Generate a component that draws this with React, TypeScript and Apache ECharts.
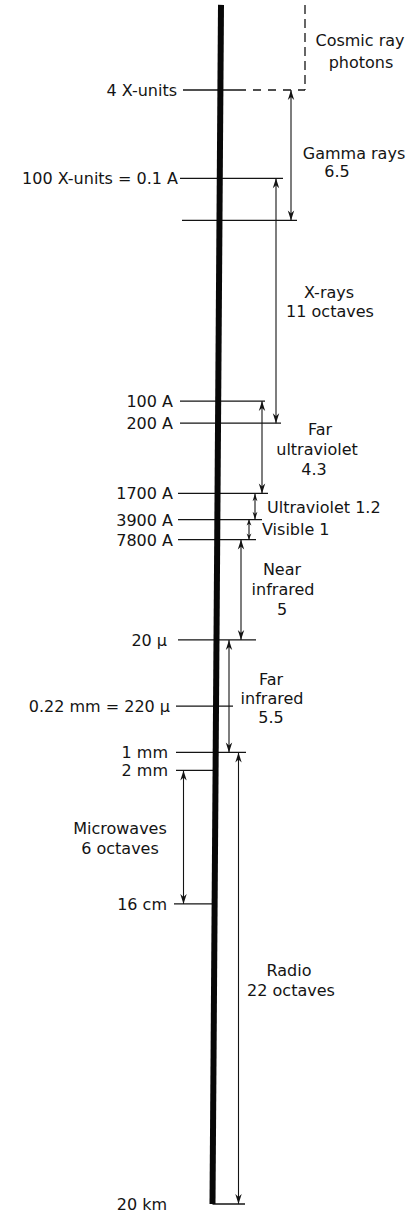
import React, { useEffect, useRef } from "react";
import * as echarts from "echarts";

// ---- data (positions on the scale, in octaves below 4 X-units) ----
const levelLabels = [
  "4 X-units",
  "100 X-units = 0.1 A",
  "",
  "100 A",
  "200 A",
  "1700 A",
  "3900 A",
  "7800 A",
  "20 \u03bc",
  "0.22 mm = 220 \u03bc",
  "1 mm",
  "2 mm",
  "16 cm",
  "20 km",
];
const levelOctaves = [0, 4.4, 6.5, 15.5, 16.6, 20.1, 21.4, 22.4, 27.4, 30.7, 33.0, 33.9, 40.55, 55.5];
const topOctave = -4.24;

const bandNames = [
  "Cosmic ray\nphotons",
  "Gamma rays\n6.5",
  "X-rays\n11 octaves",
  "Far\nultraviolet\n4.3",
  "Ultraviolet 1.2",
  "Visible 1",
  "Near\ninfrared\n5",
  "Far\ninfrared\n5.5",
  "Microwaves\n6 octaves",
  "Radio\n22 octaves",
];
// band limits as indices into the levels (-1 = top of the scale)
const bandFrom = [-1, 0, 1, 3, 5, 6, 7, 8, 11, 10];
const bandTo = [0, 2, 4, 5, 6, 7, 8, 10, 12, 13];

// ---- layout (pixels) ----
const W = 414;
const H = 1214;
const PX_PER_OCT = 1114 / 55.5;
const Y0 = 90;
const BAR_TOP_X = 221;
const BAR_BOTTOM_X = 212.5;
const INK = "#141414";
const FONT = '16px "DejaVu Sans", sans-serif';

// [left end, right end]; null = at the thick bar
const levelLineX: (number | null)[][] = [
  [183, 305], [180, 283], [182, 297], [180, 265], [180, 281], [178, 268], [178, 262],
  [178, 256], [178, 256], [176, 233], [176, 246], [176, null], [174, null], [null, 245],
];
const levelLabelRight = [177, 178, 0, 173, 173, 173, 173, 173, 167, 170, 168, 168, 167, 167];
const levelDashFrom: (number | null)[] = [238, null, null, null, null, null, null, null, null, null, null, null, null, null];

const bandArrowX: (number | null)[] = [null, 291, 276, 262, 255, 249, 241, 229, 183.5, 238.5];
const cosmicDashX = 305;
const bandLabelX = [360, 354, 329, 317, 267, 262, 282, 271, 120, 290];
const bandLabelAlign = ["center", "center", "center", "center", "left", "left", "center", "center", "center", "center"];
const bandLabelDy = [3.6, 6.8, 1.7, 2.7, 1.5, 0.4, 0, 2.3, 1.8, 2.8];
const bandLineHeight = [22, 18, 19, 20, 20, 20, 20, 19, 20, 20];
const bandLineDx: number[][] = [[0, 1], [0, -17], [0, 1], [3, 0, -3], [0], [0], [0, 1, 0], [0, 1, 0], [0, 0], [-1, 1]];

const octAt = (i: number) => (i < 0 ? topOctave : levelOctaves[i]);
const barX = (v: number) =>
  BAR_TOP_X + ((v - topOctave) / (levelOctaves[levelOctaves.length - 1] - topOctave)) * (BAR_BOTTOM_X - BAR_TOP_X);

export default function App() {
  const ref = useRef<HTMLDivElement>(null);

  useEffect(() => {
    if (!ref.current) return;
    const chart = echarts.init(ref.current, undefined, { renderer: "svg" });

    const levelData = levelOctaves.map((v, i) => {
      const [a, b] = levelLineX[i];
      return [a == null ? barX(v) : a, b == null ? barX(v) : b, v, i];
    });

    const arrowData = bandNames
      .map((_, i) => [bandArrowX[i], octAt(bandFrom[i]), octAt(bandTo[i]), i])
      .filter((d) => d[0] != null);

    const labelData = bandNames.map((_, i) => [bandLabelX[i], (octAt(bandFrom[i]) + octAt(bandTo[i])) / 2, i]);

    const lineStyle = (dash?: number[]) => ({ stroke: INK, lineWidth: 1.3, lineDash: dash });

    chart.setOption({
      animation: false,
      backgroundColor: "#ffffff",
      grid: { left: 0, right: 0, top: 0, bottom: 0 },
      xAxis: { type: "value", min: 0, max: W, show: false },
      yAxis: { type: "value", inverse: true, min: -Y0 / PX_PER_OCT, max: (H - Y0) / PX_PER_OCT, show: false },
      series: [
        {
          type: "custom",
          name: "levels",
          coordinateSystem: "cartesian2d",
          encode: { x: 0, y: 2 },
          data: levelData,
          z: 2,
          renderItem: (params: any, api: any) => {
            const v = api.value(2);
            const i = api.value(3);
            const p1 = api.coord([api.value(0), v]);
            const p2 = api.coord([api.value(1), v]);
            const children: any[] = [];
            const dashFrom = levelDashFrom[i];
            if (dashFrom != null) {
              const pd = api.coord([dashFrom, v]);
              children.push({ type: "line", shape: { x1: p1[0], y1: p1[1], x2: pd[0], y2: pd[1] }, style: lineStyle() });
              children.push({ type: "line", shape: { x1: pd[0], y1: pd[1], x2: p2[0], y2: p2[1] }, style: lineStyle([8, 7]) });
            } else {
              children.push({ type: "line", shape: { x1: p1[0], y1: p1[1], x2: p2[0], y2: p2[1] }, style: lineStyle() });
            }
            if (levelLabels[i]) {
              const pl = api.coord([levelLabelRight[i], v]);
              children.push({
                type: "text",
                style: { text: levelLabels[i], x: pl[0], y: pl[1] + 0.5, font: FONT, fill: INK, align: "right", verticalAlign: "middle" },
              });
            }
            return { type: "group", children };
          },
        },
        {
          type: "custom",
          name: "cosmic",
          coordinateSystem: "cartesian2d",
          encode: { x: 0, y: 1 },
          data: [[cosmicDashX, topOctave, levelOctaves[0]]],
          renderItem: (params: any, api: any) => {
            const a = api.coord([api.value(0), api.value(1)]);
            const b = api.coord([api.value(0), api.value(2)]);
            return { type: "line", shape: { x1: a[0], y1: a[1], x2: b[0], y2: b[1] }, style: lineStyle([9, 5]) };
          },
        },
        {
          type: "custom",
          name: "arrows",
          coordinateSystem: "cartesian2d",
          encode: { x: 0, y: 1 },
          data: arrowData,
          z: 3,
          renderItem: (params: any, api: any) => {
            const a = api.coord([api.value(0), api.value(1)]);
            const b = api.coord([api.value(0), api.value(2)]);
            const len = b[1] - a[1];
            const h = Math.min(10, len * 0.3);
            const w = h < 8 ? 2.4 : 3.2;
            return {
              type: "group",
              children: [
                { type: "line", shape: { x1: a[0], y1: a[1], x2: b[0], y2: b[1] }, style: { stroke: INK, lineWidth: 1.1 } },
                {
                  type: "polygon",
                  shape: { points: [[a[0], a[1]], [a[0] - w, a[1] + h], [a[0], a[1] + h * 0.7], [a[0] + w, a[1] + h]] },
                  style: { fill: INK },
                },
                {
                  type: "polygon",
                  shape: { points: [[b[0], b[1]], [b[0] - w, b[1] - h], [b[0], b[1] - h * 0.7], [b[0] + w, b[1] - h]] },
                  style: { fill: INK },
                },
              ],
            };
          },
        },
        {
          type: "custom",
          name: "bandLabels",
          coordinateSystem: "cartesian2d",
          encode: { x: 0, y: 1 },
          data: labelData,
          z: 4,
          renderItem: (params: any, api: any) => {
            const i = api.value(2);
            const p = api.coord([api.value(0), api.value(1)]);
            const lines = bandNames[i].split("\n");
            const lh = bandLineHeight[i];
            const cy = p[1] + bandLabelDy[i];
            return {
              type: "group",
              children: lines.map((t, k) => ({
                type: "text",
                style: {
                  text: t,
                  x: p[0] + (bandLineDx[i][k] || 0),
                  y: cy + (k - (lines.length - 1) / 2) * lh,
                  font: FONT,
                  fill: INK,
                  align: bandLabelAlign[i],
                  verticalAlign: "middle",
                },
              })),
            };
          },
        },
        {
          type: "line",
          name: "spectrum",
          data: [
            [BAR_TOP_X, topOctave],
            [BAR_BOTTOM_X, levelOctaves[levelOctaves.length - 1]],
          ],
          symbol: "none",
          z: 5,
          lineStyle: { color: "#080808", width: 6, cap: "butt" },
          silent: true,
        },
      ],
    });

    return () => chart.dispose();
  }, []);

  return (
    <div
      ref={ref}
      style={{ position: "absolute", left: 0, top: 0, width: W, height: H, background: "#ffffff" }}
    />
  );
}
